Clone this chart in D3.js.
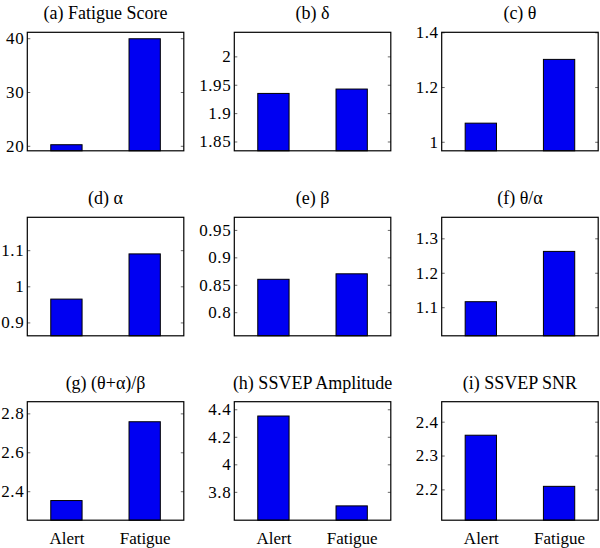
<!DOCTYPE html>
<html>
<head>
<meta charset="utf-8">
<script src="https://cdn.jsdelivr.net/npm/d3@7"></script>
<style>
html,body{margin:0;padding:0;background:#fff;}
</style>
</head>
<body>
<svg id="chart" width="600" height="548"></svg>
<script>
// ---- data ----
const categories = ["Alert", "Fatigue"];
const panelTitles = ["(a) Fatigue Score", "(b)  δ", "(c)  θ", "(d) α", "(e) β", "(f) θ/α", "(g) (θ+α)/β", "(h) SSVEP Amplitude", "(i) SSVEP SNR"];
const alertValues   = [20.2, 1.9347, 1.068, 0.9646, 0.860, 1.116, 2.352, 4.351, 2.360];
const fatigueValues = [39.9, 1.9424, 1.301, 1.0897, 0.870, 1.262, 2.757, 3.698, 2.209];
const yMin = [19.07, 1.8336, 0.967, 0.863, 0.757, 1.017, 2.251, 3.594, 2.109];
const yMax = [41.1, 2.0424, 1.4, 1.191, 0.973, 1.361, 2.86, 4.455, 2.459];
const yTicks = [
  [20, 30, 40],
  [1.85, 1.9, 1.95, 2],
  [1, 1.2, 1.4],
  [0.9, 1, 1.1],
  [0.8, 0.85, 0.9, 0.95],
  [1.1, 1.2, 1.3],
  [2.4, 2.6, 2.8],
  [3.8, 4, 4.2, 4.4],
  [2.2, 2.3, 2.4]
];
const xPositions = [1, 2];

// ---- layout ----
const FONT = '"Liberation Serif", "Times New Roman", serif';
const svg = d3.select("#chart");
const colLeft = [27.3, 234.3, 441.7];
const rowTop = [32.3, 217.3, 401.7];
const axW = 156.5, axH = 118.5;
const barColor = "#0000f2";

panelTitles.forEach((title, i) => {
  const col = i % 3, row = Math.floor(i / 3);
  const g = svg.append("g").attr("transform", `translate(${colLeft[col]},${rowTop[row]})`);
  const x = d3.scaleLinear().domain([0.5, 2.5]).range([0, axW]);
  const y = d3.scaleLinear().domain([yMin[i], yMax[i]]).range([axH, 0]);
  const vals = [alertValues[i], fatigueValues[i]];
  const bw = x(1.2) - x(0.8);

  g.selectAll("rect.bar").data(vals).join("rect")
    .attr("class", "bar")
    .attr("x", (d, k) => x(xPositions[k]) - bw / 2)
    .attr("width", bw)
    .attr("y", d => y(d))
    .attr("height", d => axH - y(d))
    .attr("fill", barColor)
    .attr("stroke", "#000")
    .attr("stroke-width", 1);

  // left axis (inward ticks)
  const yl = d3.axisLeft(y).tickValues(yTicks[i]).tickSize(-3).tickPadding(3).tickFormat(d => String(d));
  const ga = g.append("g").call(yl).attr("font-family", FONT).attr("font-size", 17);
  ga.select(".domain").remove();
  ga.selectAll(".tick line").attr("stroke", "#000").attr("stroke-width", 0.6);
  ga.selectAll(".tick text").style("font-family", FONT).style("font-size", "17px")
    .attr("fill", "#000").attr("letter-spacing", "0.6px");
  // right axis ticks
  const yr = d3.axisRight(y).tickValues(yTicks[i]).tickSize(-3).tickFormat("");
  const gr = g.append("g").attr("transform", `translate(${axW},0)`).call(yr);
  gr.select(".domain").remove();
  gr.selectAll(".tick line").attr("stroke", "#000").attr("stroke-width", 0.6);

  // box
  g.append("rect").attr("x", 0).attr("y", 0).attr("width", axW).attr("height", axH)
    .attr("fill", "none").attr("stroke", "#000").attr("stroke-width", 1.2);

  // title
  g.append("text").attr("x", axW / 2).attr("y", -13)
    .attr("text-anchor", "middle")
    .style("font-family", FONT).style("font-size", "18px").text(title);

  // x labels on bottom row
  if (row === 2) {
    const xa = d3.axisBottom(x).tickValues(xPositions).tickSize(0).tickPadding(12)
      .tickFormat((d, k) => categories[k]);
    const gx = g.append("g").attr("transform", `translate(0,${axH})`).call(xa);
    gx.select(".domain").remove();
    gx.selectAll(".tick text").style("font-family", FONT).style("font-size", "17px").attr("fill", "#000");
  }
});
</script>
</body>
</html>
